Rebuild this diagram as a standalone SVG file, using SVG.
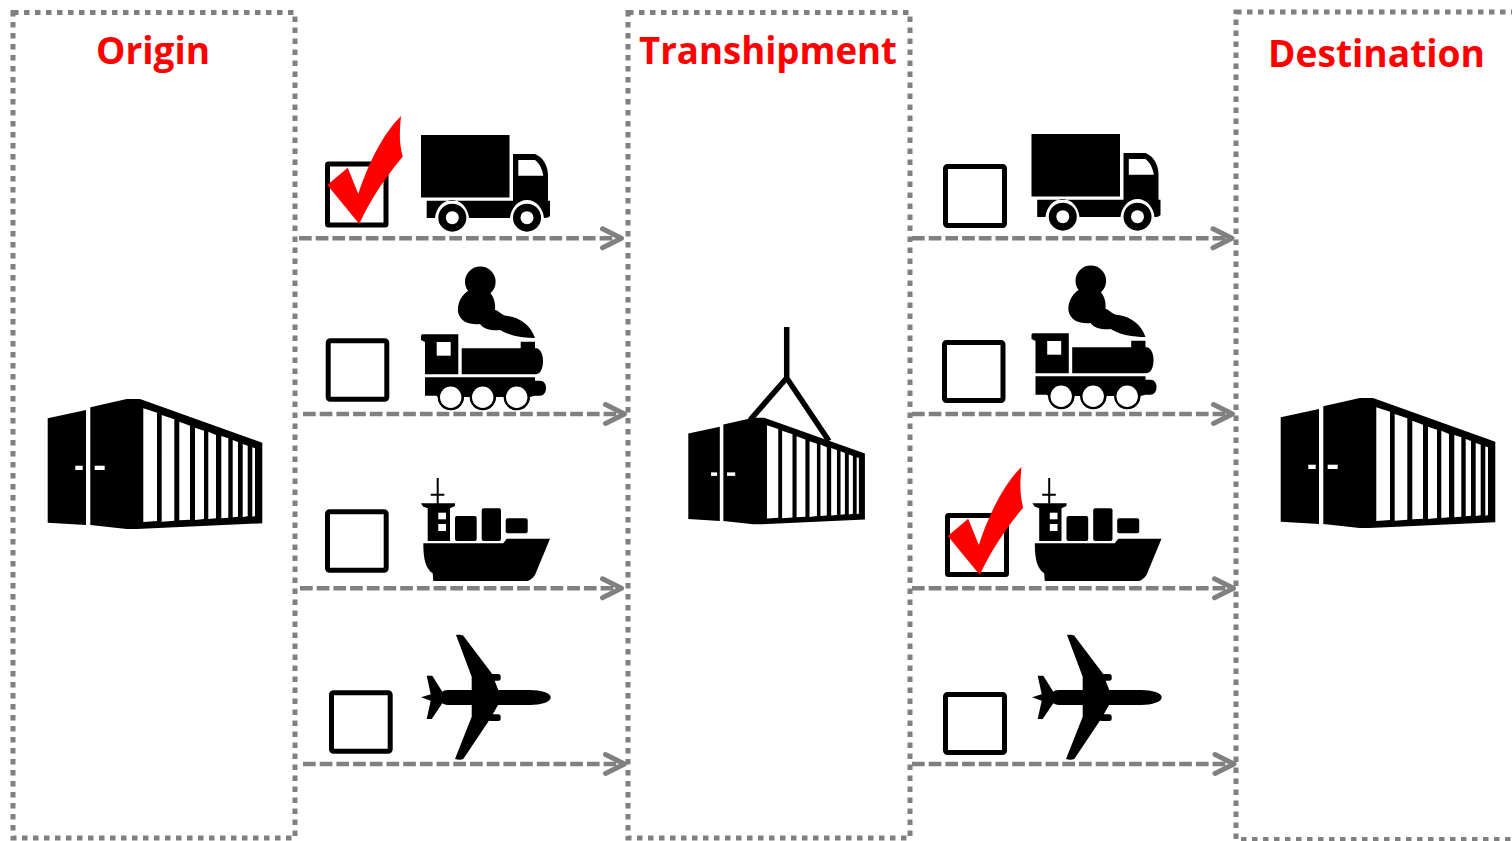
<svg xmlns="http://www.w3.org/2000/svg" xmlns:xlink="http://www.w3.org/1999/xlink" width="1512" height="841" viewBox="0 0 1512 841">
<style>
.zone{fill:none;stroke:#808080;stroke-width:5;stroke-dasharray:5.500 5.500;}
.conn{fill:none;stroke:#808080;stroke-width:4.500;stroke-dasharray:12.700 4;}
.box{fill:#fff;stroke:#000;stroke-width:5;}
.w{fill:#fff;}
.k{fill:#000;}
.title{font-family:"Open Sans","Liberation Sans",sans-serif;font-weight:700;font-size:38px;fill:#f00;text-anchor:middle;}
</style>
<defs>
<marker id="arrow" markerUnits="userSpaceOnUse" markerWidth="26" markerHeight="28" refX="22" refY="14" orient="auto" overflow="visible">
<path d="M3 4.500 L22 14 L3 23.500" fill="none" stroke="#808080" stroke-width="5" stroke-linecap="round" stroke-linejoin="round"/>
</marker>
<path id="check" fill="#f00" d="M327.300 185L347.700 167.700L358.300 194C368.300 163.300 383.300 133.300 401 116C399.300 133.300 399.300 143.300 402.700 156.700C388.300 173.300 370 200 359.300 224Z"/>
<g id="container">
<path class="k" d="M47.700 418.300L86 410V525L47.700 522.700Z"/>
<path class="k" d="M90.300 407.300L126.700 399H140L262.300 442.700V523.300L136.700 529H126.700L90.300 525Z"/>
<path class="w" d="M143.300 408.300L157 412.700V521L143.300 522ZM161.700 415L174.300 419.300V520.700L161.700 521.700ZM179.300 421.700L190 425.700V519.700L179.300 520.300ZM195 427.700L204 430.700V519L195 520ZM208.300 431.700L216 435V518.300L208.300 519ZM221.300 436L228.300 438.300V517.700L221.300 518.300ZM232.700 440L238 442V516.700L232.700 517.300ZM242.700 444L247.700 445.700V516.300L242.700 517ZM252.300 447.300L255 448.300V516L252.300 516.700Z"/>
<rect class="w" x="75.300" y="465.700" width="7.400" height="4.300"/>
<rect class="w" x="94.700" y="465.700" width="10" height="4.300"/>
</g>
<g id="truck">
<rect class="k" x="421" y="135" width="88.500" height="62.500"/>
<path class="k" d="M513 154H535C543 157 548 166 548 175V200.700H550V216C548 218 546 218 544 218C543 208 536 200 527 200C518 200 511 208 510 218H469C468 208 461 200 452 200C443 200 436 208 435 218H426.700V200.700H513Z"/>
<path class="w" d="M518.300 160H535C539 163 542 168 543.300 175.700H518.300Z"/>
<circle class="k" cx="452.300" cy="217.700" r="14"/><circle class="w" cx="452.300" cy="217.700" r="6.500"/>
<circle class="k" cx="527" cy="217.700" r="14"/><circle class="w" cx="527" cy="217.700" r="6.500"/>
</g>
<g id="train">
<circle class="k" cx="480.300" cy="281.700" r="15.300"/>
<path class="k" d="M474 288C462 292 457 303 458 312C460 322 470 325 480 324C484 330 494 331 500 330C510 336 522 338 535 338C531 326 521 318 508 316C501 316 499 310 495 310C496 300 492 292 484 289Z"/>
<path class="k" d="M421 336C421 334.500 422 334.300 424 334.300H458.300V374.300H425V342L421 340Z"/>
<rect class="w" x="436.700" y="342" width="14" height="13.700"/>
<path class="k" d="M461.700 348.300H520.700V341.700H535V348.300H537C541 350 543 355 543 361C543 368 541 374.300 535 374.300H461.700Z"/>
<path class="k" d="M425 377.300H535V380.700H540C544 380.700 546 384 546 388C546 392 544 395.700 540 395.700H535L530 397A13 13 0 0 1 504 397H496A13 13 0 0 1 470 397H464A13 13 0 0 1 438 397L436 395.700H425Z"/>
<circle class="k" cx="450.700" cy="397.300" r="13"/><circle class="w" cx="450.700" cy="397.300" r="10.700"/>
<circle class="k" cx="482.700" cy="397.300" r="13"/><circle class="w" cx="482.700" cy="397.300" r="10.700"/>
<circle class="k" cx="516.700" cy="397.300" r="13"/><circle class="w" cx="516.700" cy="397.300" r="10.700"/>
</g>
<g id="ship">
<path class="k" d="M436.700 478H438.700V493.700H444.300V495.700H438.700V503.300H455V506L450 508.300V541H427.700V508.300L423 506.500L421 503.300H436.700V495.700H430.700V493.700H436.700Z"/>
<rect class="w" x="438.300" y="512.700" width="7.700" height="6.600"/>
<rect class="w" x="438.300" y="524" width="7.700" height="7"/>
<rect class="k" x="455" y="516" width="21.700" height="25" rx="2"/>
<rect class="k" x="481.700" y="508.300" width="19.300" height="32.700" rx="2"/>
<rect class="k" x="505.700" y="518.300" width="22" height="15" rx="2"/>
<path class="k" d="M423.300 543.300H503.300L506.700 538.700H550L535 575C532 579 529 581 526.700 581H433.300L432.700 573.300C426 569 423.300 560 423.300 543.300Z"/>
</g>
<g id="plane">
<path class="k" d="M456 635C459 634.500 462 635 463.300 635.700L491.700 673.300L498.300 690H530C541 690 551 693 550.700 697.300C551 702 541 705 530 705H498L490.700 718L463.300 759C461 760 458 760 455 759L471.700 716.700V705H448C445 705 443 704 442.300 703.300L431.700 719H426.700L430.700 700.700L421 697.300L430.700 694.300L426.700 675.700H432.300L442.300 691.700C443 691 445 690 448 690H471.700V676.700Z"/>
<rect class="k" x="488" y="674" width="12.700" height="6.700" rx="2.500"/>
<rect class="k" x="488" y="714.300" width="12.700" height="6.700" rx="2.500"/>
</g>
</defs>

<g id="origin">
<rect class="zone" x="13" y="12.500" width="282" height="825.500"/>
<text class="title" x="153" y="64" textLength="114" lengthAdjust="spacingAndGlyphs">Origin</text>
<use xlink:href="#container" href="#container"/>
</g>
<g id="transhipment">
<rect class="zone" x="628" y="12.500" width="282" height="825.500"/>
<text class="title" x="768" y="64" textLength="258" lengthAdjust="spacingAndGlyphs">Transhipment</text>
<path d="M786.700 327V378M786.700 378L750 420M786.700 378L829 441" fill="none" stroke="#000" stroke-width="5.500"/>
<use xlink:href="#container" href="#container" transform="translate(649.040 90.500) scale(.823 .82)"/>
</g>
<g id="destination">
<rect class="zone" x="1236" y="12" width="290" height="827.500"/>
<text class="title" x="1376.500" y="67" textLength="217" lengthAdjust="spacingAndGlyphs">Destination</text>
<use xlink:href="#container" href="#container" transform="translate(1233 -1)"/>
</g>

<g id="connectors">
<path class="conn" marker-end="url(#arrow)" d="M299 238.300H621.500"/>
<path class="conn" marker-end="url(#arrow)" d="M303 414H624.500"/>
<path class="conn" marker-end="url(#arrow)" d="M300 588.300H621.500"/>
<path class="conn" marker-end="url(#arrow)" d="M303 764H624.500"/>
<path class="conn" marker-end="url(#arrow)" d="M912 238.300H1232"/>
<path class="conn" marker-end="url(#arrow)" d="M912 414H1232.500"/>
<path class="conn" marker-end="url(#arrow)" d="M912 588.300H1233.500"/>
<path class="conn" marker-end="url(#arrow)" d="M912 764H1234"/>
</g>

<g id="leg1-truck"><rect class="box" x="327.500" y="164" width="58.500" height="61" rx="1"/><use xlink:href="#check" href="#check"/><use xlink:href="#truck" href="#truck"/></g>
<g id="leg1-train"><rect class="box" x="328.200" y="340.800" width="58.600" height="58.400" rx="2"/><use xlink:href="#train" href="#train"/></g>
<g id="leg1-ship"><rect class="box" x="327.500" y="511.800" width="58.700" height="58.400" rx="2"/><use xlink:href="#ship" href="#ship"/></g>
<g id="leg1-plane"><rect class="box" x="331.500" y="692.800" width="58.700" height="58.400" rx="2"/><use xlink:href="#plane" href="#plane"/></g>

<g id="leg2-truck"><rect class="box" x="945.500" y="166.500" width="59" height="59" rx="2"/><use xlink:href="#truck" href="#truck" transform="translate(610.500 -1)"/></g>
<g id="leg2-train"><rect class="box" x="944.500" y="342.500" width="58.500" height="58" rx="2"/><use xlink:href="#train" href="#train" transform="translate(610.500 -1)"/></g>
<g id="leg2-ship"><rect class="box" x="947.500" y="515.500" width="59" height="59" rx="1"/><use xlink:href="#check" href="#check" transform="translate(620.500 351)"/><use xlink:href="#ship" href="#ship" transform="translate(611.500 0)"/></g>
<g id="leg2-plane"><rect class="box" x="945.500" y="694.500" width="59" height="58" rx="2"/><use xlink:href="#plane" href="#plane" transform="translate(611 0)"/></g>
</svg>
